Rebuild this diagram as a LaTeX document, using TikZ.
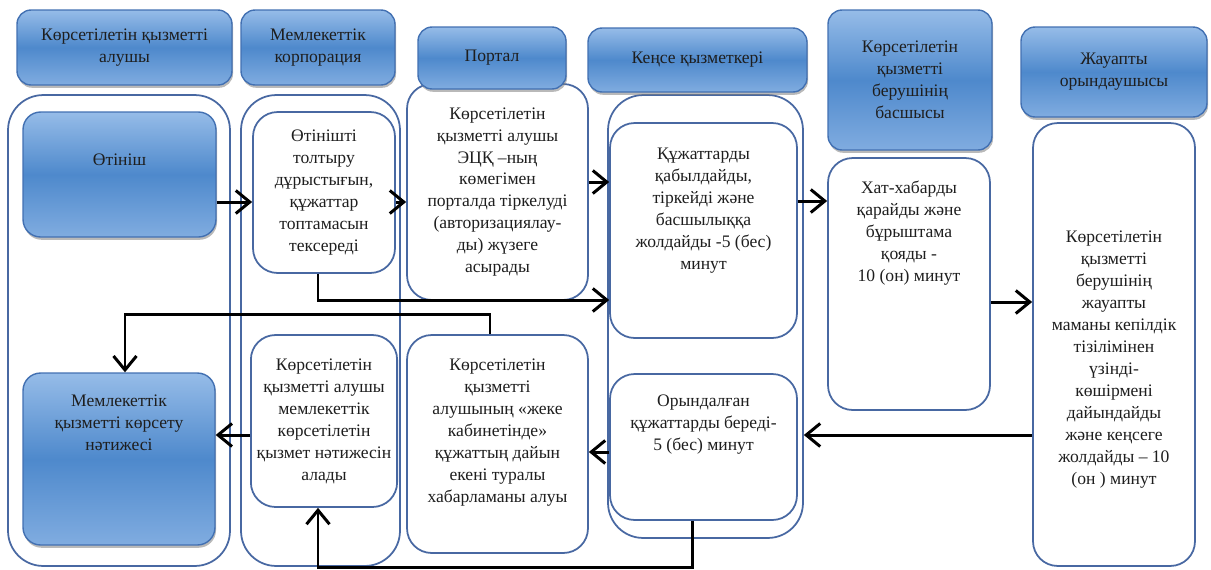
\documentclass[tikz,border=0pt]{standalone}
\usepackage{fontspec}
\setmainfont{Liberation Serif}
\usetikzlibrary{positioning,arrows.meta,shadows}
\definecolor{laneblue}{RGB}{72,104,162}
\definecolor{hdrtop}{RGB}{150,188,232}
\definecolor{hdrmid}{RGB}{78,137,204}
\definecolor{hdrbot}{RGB}{128,172,224}
\definecolor{hdredge}{RGB}{66,112,178}
\definecolor{txtgray}{RGB}{30,30,30}
\tikzstyle{hbox}=[rectangle, rounded corners=8pt, draw=hdredge, thick,
 top color=hdrtop, bottom color=hdrbot, middle color=hdrmid,
 drop shadow={shadow xshift=0.6pt, shadow yshift=-1.6pt, opacity=0.55},
 align=center, text=txtgray, font=\fontsize{10}{12.5}\selectfont]
\tikzstyle{bbox}=[hbox, rounded corners=10pt]
\tikzstyle{lane}=[rectangle, rounded corners=20pt, draw=laneblue, line width=1pt]
\tikzstyle{pbox}=[rectangle, rounded corners=14pt, draw=laneblue, line width=1pt,
 fill=white, align=center, text=txtgray, font=\fontsize{10}{12.5}\selectfont]
\tikzstyle{ptext}=[align=center, text=txtgray, font=\fontsize{10}{12.5}\selectfont]
\tikzstyle{parrow}=[-{Straight Barb[length=2.8mm,width=4.6mm]}, line width=1.7pt]
\tikzstyle{pline}=[-, line width=1.7pt]

\begin{document}
\begin{tikzpicture}[x=0.02cm, y=-0.02cm]
\useasboundingbox (0,0) rectangle (1211,569);

% lanes
\node (LALUSHY) [lane, minimum width=4.44cm, minimum height=9.42cm] at (119,330.5) {};
\node (LKORP) [lane, minimum width=3.18cm, minimum height=9.42cm] at (320.5,330.5) {};
\node (LKENSE) [lane, minimum width=3.90cm, minimum height=8.86cm] at (705.5,316.5) {};

% process boxes
\node (OTINISH) [bbox, minimum width=3.86cm, minimum height=2.50cm,
 label={[ptext, yshift=0.29cm]center:{Өтініш}}] at (119.5,174.5) {};
\node (NATIJE) [bbox, minimum width=3.84cm, minimum height=3.44cm,
 label={[ptext, yshift=0.72cm]center:{Мемлекеттік\\қызметті көрсету\\нәтижесі}}] at (119,459) {};
\node (TEKSER) [pbox, minimum width=2.84cm, minimum height=3.22cm] at (324,192.5)
 {Өтінішті\\толтыру\\дұрыстығын,\\құжаттар\\топтамасын\\тексереді};
\node (NATALU) [pbox, minimum width=2.84cm, minimum height=3.44cm] at (324,421)
 {Көрсетілетін\\қызметті алушы\\мемлекеттік\\көрсетілетін\\қызмет нәтижесін\\алады};
\node (PORTREG) [pbox, minimum width=3.62cm, minimum height=4.32cm] at (497.5,192)
 {Көрсетілетін\\қызметті алушы\\ЭЦҚ –ның\\көмегімен\\порталда тіркелуді\\(авторизациялау-\\ды) жүзеге\\асырады};
\node (PORTNOT) [pbox, minimum width=3.62cm, minimum height=4.36cm,
 label={[ptext, yshift=0.23cm]center:{Көрсетілетін\\қызметті\\алушының «жеке\\кабинетінде»\\құжаттың дайын\\екені туралы\\хабарламаны алуы}}] at (497.5,444) {};
\node (KABYL) [pbox, minimum width=3.74cm, minimum height=4.30cm,
 label={[ptext, yshift=0.40cm]center:{Құжаттарды\\қабылдайды,\\тіркейді және\\басшылыққа\\жолдайды -5 (бес)\\минут}}] at (703.5,230.5) {};
\node (ORYND) [pbox, minimum width=3.74cm, minimum height=2.92cm,
 label={[ptext, yshift=0.44cm]center:{Орындалған\\құжаттарды береді-\\5 (бес) минут}}] at (703.5,447) {};
\node (HATHABAR) [pbox, minimum width=3.24cm, minimum height=5.04cm,
 label={[ptext, yshift=1.02cm]center:{Хат-хабарды\\қарайды және\\бұрыштама\\қояды -\\10 (он) минут}}] at (909,284) {};
\node (JAUAPTY) [pbox, minimum width=3.24cm, minimum height=8.86cm,
 label={[ptext, yshift=-0.30cm]center:{Көрсетілетін\\қызметті\\берушінің\\жауапты\\маманы кепілдік\\тізілімінен\\үзінді-\\көшірмені\\дайындайды\\және кеңсеге\\жолдайды – 10\\(он ) минут}}] at (1114,344.5) {};

% headers
\node (HALUSHY) [hbox, minimum width=4.30cm, minimum height=1.50cm] at (124.5,47.5) {Көрсетілетін қызметті\\алушы};
\node (HKORP) [hbox, minimum width=3.08cm, minimum height=1.50cm] at (318,47.5) {Мемлекеттік\\корпорация};
\node (HPORTAL) [hbox, minimum width=2.96cm, minimum height=1.24cm] at (492,58) {Портал};
\node (HKENSE) [hbox, minimum width=4.38cm, minimum height=1.28cm] at (697.5,60) {Кеңсе қызметкері};
\node (HBASSHY) [hbox, minimum width=3.28cm, minimum height=2.80cm] at (910,80) {Көрсетілетін\\қызметті\\берушінің\\басшысы};
\node (HJAUAP) [hbox, minimum width=3.72cm, minimum height=1.80cm] at (1114,72) {Жауапты\\орындаушысы};

% connectors
\draw[parrow] (OTINISH.east |- 0,202) -- (TEKSER.west |- 0,202);
\draw[parrow] (TEKSER.east |- 0,202) -- (PORTREG.west |- 0,202);
\draw[parrow] (PORTREG.east |- 0,182) -- (KABYL.west |- 0,182);
\draw[parrow] ([xshift=-0.12cm]TEKSER.south) |- (KABYL.west |- 0,300);
\draw[parrow] (KABYL.east |- 0,201) -- (HATHABAR.west |- 0,201);
\draw[parrow] (HATHABAR.east |- 0,302) -- (JAUAPTY.west |- 0,302);
\draw[parrow] (JAUAPTY.west |- 0,435) -- (LKENSE.east |- 0,435);
\draw[parrow] (ORYND.west |- 0,452) -- (PORTNOT.east |- 0,452);
\draw[parrow] ([xshift=-0.23cm]ORYND.south) -- ++(0,47) -| ([xshift=-0.12cm]NATALU.south);
\draw[parrow] ([xshift=-0.15cm]PORTNOT.north) -- ++(0,-20) -| ([xshift=0.12cm]NATIJE.north);
\draw[parrow] (NATALU.west |- 0,435) -- (NATIJE.east |- 0,435);

\end{tikzpicture}
\end{document}
